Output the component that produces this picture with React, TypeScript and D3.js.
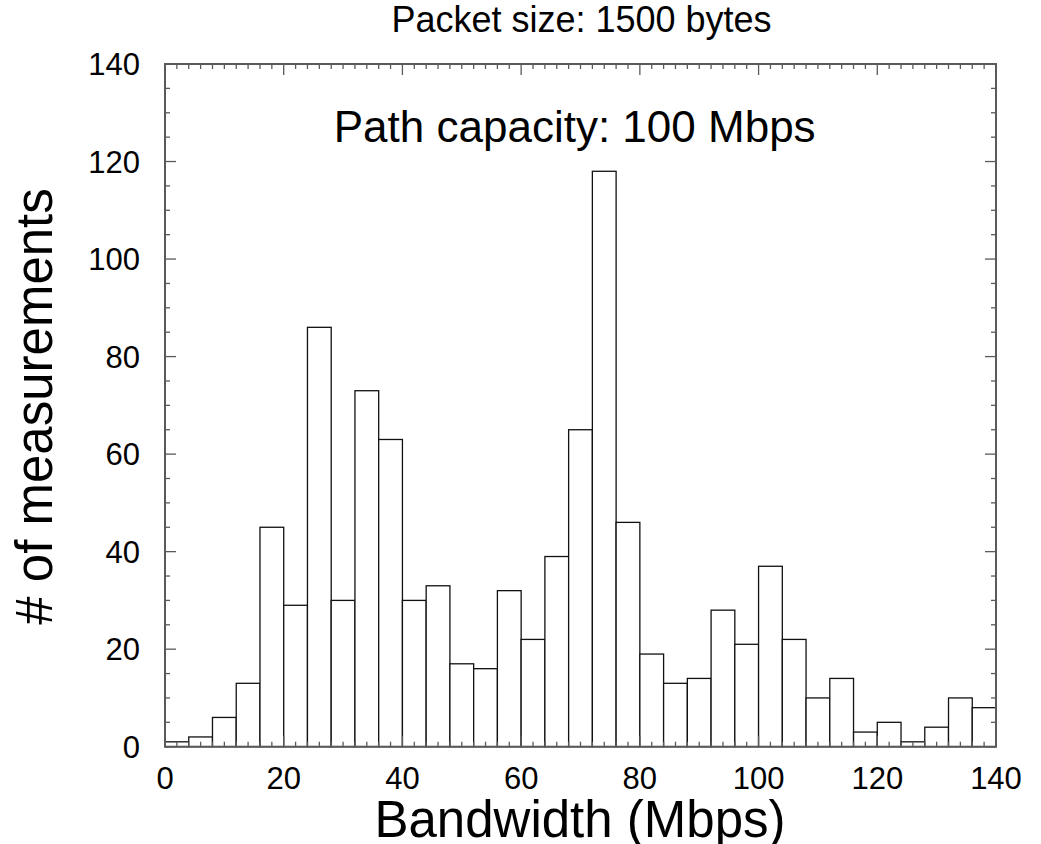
import React from "react";
import * as d3 from "d3";

const binStarts = [0,4,8,12,16,20,24,28,32,36,40,44,48,52,56,60,64,68,72,76,80,84,88,92,96,100,104,108,112,116,120,124,128,132,136];
const counts = [1,2,6,13,45,29,86,30,73,63,30,33,17,16,32,22,39,65,118,46,19,13,14,28,21,37,22,10,14,3,5,1,4,10,8];
const binWidth = 4;
const xTickLabels = [0,20,40,60,80,100,120,140];
const yTickLabels = [0,20,40,60,80,100,120,140];
const titleText = "Packet size: 1500 bytes";
const annotation = "Path capacity: 100 Mbps";
const xTitle = "Bandwidth (Mbps)";
const yTitle = "# of measurements";

const W = 1041, H = 844;
const left = 165, right = 996, top = 64, bottom = 746.7;
const font = "'Liberation Sans', Arial, Helvetica, sans-serif";

export default function App() {
  const x = d3.scaleLinear().domain([0, 140]).range([left, right]);
  const y = d3.scaleLinear().domain([0, 140]).range([bottom, top]);
  const xMinor = d3.range(0, 141, 2);
  const yMinor = d3.range(0, 141, 5);
  const axisColor = "#5a5a5a";
  return (
    <svg width={W} height={H} style={{ position: "absolute", left: 0, top: 0, background: "#fff" }}>
      <rect x={0} y={0} width={W} height={H} fill="#fff" />
      {binStarts.map((b, i) => (
        <rect key={i} x={x(b)} y={y(counts[i])} width={x(b + binWidth) - x(b)} height={y(0) - y(counts[i])}
          fill="#fff" stroke="#111" strokeWidth={1.3} />
      ))}
      {xMinor.map((v) => {
        const len = v % 20 === 0 ? 11 : 5;
        return (
          <g key={"x" + v} stroke={axisColor} strokeWidth={1.3}>
            <line x1={x(v)} x2={x(v)} y1={bottom} y2={bottom - len} />
            <line x1={x(v)} x2={x(v)} y1={top} y2={top + len} />
          </g>
        );
      })}
      {yMinor.map((v) => {
        const len = v % 20 === 0 ? 11 : 5;
        return (
          <g key={"y" + v} stroke={axisColor} strokeWidth={1.3}>
            <line x1={left} x2={left + len} y1={y(v)} y2={y(v)} />
            <line x1={right} x2={right - len} y1={y(v)} y2={y(v)} />
          </g>
        );
      })}
      <rect x={left} y={top} width={right - left} height={bottom - top} fill="none" stroke={axisColor} strokeWidth={2} />
      {xTickLabels.map((v) => (
        <text key={"xl" + v} x={x(v)} y={788.5} textAnchor="middle" fontFamily={font} fontSize={31} fill="#000">{v}</text>
      ))}
      {yTickLabels.map((v) => (
        <text key={"yl" + v} x={140} y={y(v)} dy="0.36em" textAnchor="end" fontFamily={font} fontSize={31} fill="#000">{v}</text>
      ))}
      <text x={581.5} y={31.7} textAnchor="middle" fontFamily={font} fontSize={36} fill="#000">{titleText}</text>
      <text x={574.7} y={141.7} textAnchor="middle" fontFamily={font} fontSize={44} fill="#000">{annotation}</text>
      <text x={580} y={836.7} textAnchor="middle" fontFamily={font} fontSize={51} fill="#000">{xTitle}</text>
      <text transform={`translate(52,406.5) rotate(-90)`} textAnchor="middle" fontFamily={font} fontSize={51} fill="#000">{yTitle}</text>
    </svg>
  );
}
